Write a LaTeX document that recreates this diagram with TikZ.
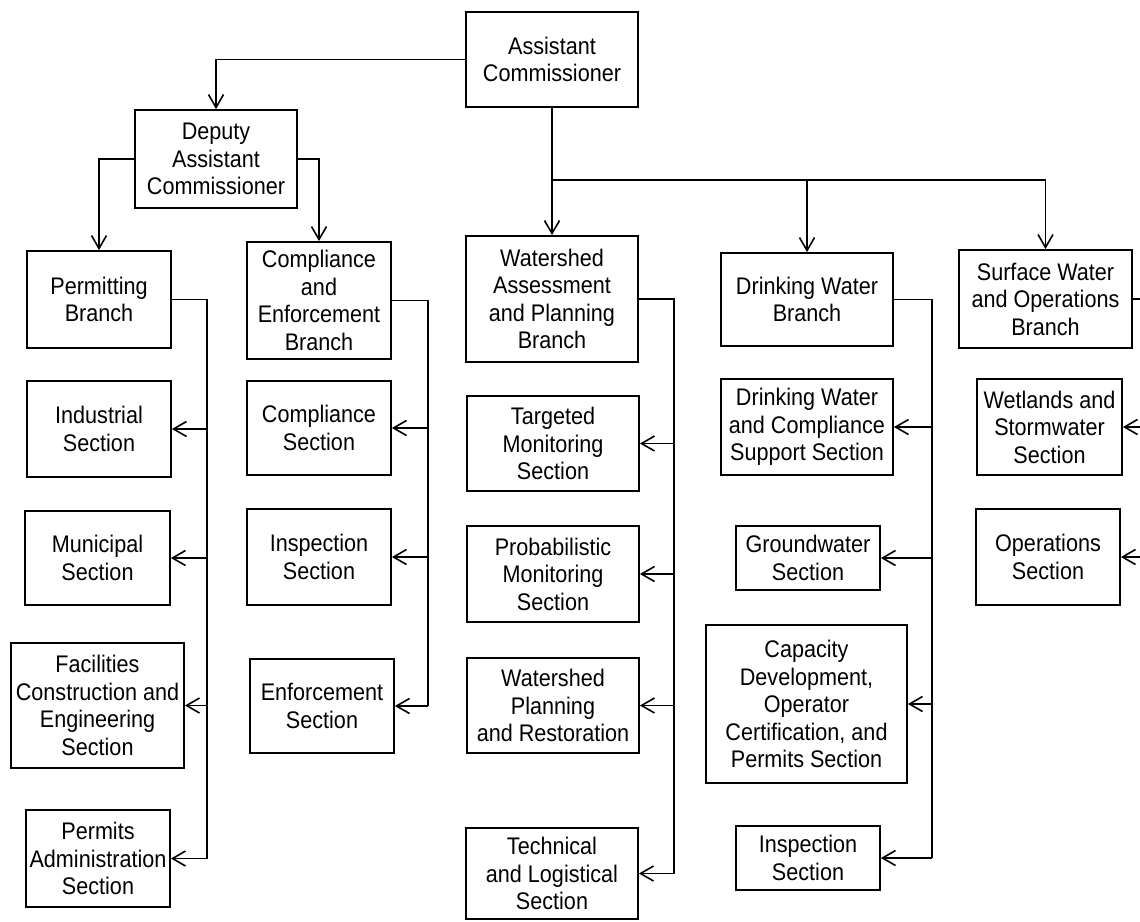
\documentclass[tikz,border=0pt]{standalone}
\usepackage{fontspec}
\setmainfont{Liberation Sans}[FakeStretch=0.9]
\usetikzlibrary{arrows.meta}
\begin{document}
\begin{tikzpicture}[x=1pt,y=-1pt,
  box/.style={draw, line width=1.8pt, inner sep=0pt, align=center,
    font=\fontsize{24}{27.5}\selectfont},
  link/.style={line width=1.6pt},
  feed/.style={link, -{Straight Barb[length=13pt,width=15pt]}}]
\useasboundingbox[fill=white] (0,0) rectangle (1140,921);

% top level
\node[box, minimum width=172pt, minimum height=95pt] (ac) at (552,59.5) {Assistant\\Commissioner};
\node[box, minimum width=162pt, minimum height=98pt] (dep) at (216,159) {Deputy\\Assistant\\Commissioner};

% branches
\node[box, minimum width=144pt, minimum height=97pt] (perm) at (99,299.5) {Permitting\\Branch};
\node[box, minimum width=144pt, minimum height=117pt] (ceb) at (319,300.5) {Compliance\\and\\Enforcement\\Branch};
\node[box, minimum width=172pt, minimum height=126pt] (wap) at (552,299) {Watershed\\Assessment\\and Planning\\Branch};
\node[box, minimum width=172pt, minimum height=93pt] (dwb) at (807,299.5) {Drinking Water\\Branch};
\node[box, minimum width=173pt, minimum height=98pt] (swo) at (1045.5,299) {Surface Water\\and Operations\\Branch};

% permitting sections
\node[box, minimum width=144pt, minimum height=96pt] (ind) at (99,429) {Industrial\\Section};
\node[box, minimum width=145pt, minimum height=94pt] (mun) at (97.5,558) {Municipal\\Section};
\node[box, minimum width=173pt, minimum height=125pt] (fac) at (97.5,705.5) {Facilities\\Construction and\\Engineering\\Section};
\node[box, minimum width=144pt, minimum height=97pt] (pad) at (98,858.5) {Permits\\Administration\\Section};

% compliance and enforcement sections
\node[box, minimum width=144pt, minimum height=94pt] (cmp) at (319,428) {Compliance\\Section};
\node[box, minimum width=144pt, minimum height=96pt] (ins) at (319,557) {Inspection\\Section};
\node[box, minimum width=144pt, minimum height=94pt] (enf) at (322,706) {Enforcement\\Section};

% watershed sections
\node[box, minimum width=172pt, minimum height=95pt] (tgt) at (553,443.5) {Targeted\\Monitoring\\Section};
\node[box, minimum width=172pt, minimum height=96pt] (prb) at (553,574) {Probabilistic\\Monitoring\\Section};
\node[box, minimum width=172pt, minimum height=95pt] (wpr) at (553,705.5) {Watershed\\Planning\\and Restoration};
\node[box, minimum width=172pt, minimum height=91pt] (tec) at (552,873.5) {Technical\\and Logistical\\Section};

% drinking water sections
\node[box, minimum width=172pt, minimum height=96pt] (dwc) at (807,427) {Drinking Water\\and Compliance\\Support Section};
\node[box, minimum width=144pt, minimum height=64pt] (gw) at (808,558) {Groundwater\\Section};
\node[box, minimum width=201pt, minimum height=158pt] (cap) at (806.5,704) {Capacity\\Development,\\Operator\\Certification, and\\Permits Section};
\node[box, minimum width=144pt, minimum height=64pt] (dwi) at (808,858) {Inspection\\Section};

% surface water sections
\node[box, minimum width=145pt, minimum height=96pt] (wet) at (1049.5,427) {Wetlands and\\Stormwater\\Section};
\node[box, minimum width=144pt, minimum height=96pt] (ops) at (1048,557) {Operations\\Section};

% top connectors
\coordinate (bus) at (552,180);
\coordinate (busR) at (1045.5,180);
\draw[feed] (ac.west) -| (dep.north);
\draw[feed] (dep.west) -| (perm.north);
\draw[feed] (dep.east) -| (ceb.north);
\draw[link] (ac.south) -- (bus) -- (busR);
\draw[feed] (bus) -- (wap.north);
\draw[feed] (dwb.north |- bus) -- (dwb.north);
\draw[feed] (busR) -- (swo.north);

% section trunks
\coordinate (pt) at (207,0);
\coordinate (ct) at (428,0);
\coordinate (wt) at (674,0);
\coordinate (dt) at (932,0);
\coordinate (st) at (1165,0);

\draw[link] (perm.east) -- (perm.east -| pt) -- (pad.east -| pt);
\foreach \n in {ind,mun,fac,pad} \draw[feed] (\n.east -| pt) -- (\n.east);

\draw[link] (ceb.east) -- (ceb.east -| ct) -- (enf.east -| ct);
\foreach \n in {cmp,ins,enf} \draw[feed] (\n.east -| ct) -- (\n.east);

\draw[link] (wap.east) -- (wap.east -| wt) -- (tec.east -| wt);
\foreach \n in {tgt,prb,wpr,tec} \draw[feed] (\n.east -| wt) -- (\n.east);

\draw[link] (dwb.east) -- (dwb.east -| dt) -- (dwi.east -| dt);
\foreach \n in {dwc,gw,cap,dwi} \draw[feed] (\n.east -| dt) -- (\n.east);

\draw[link] (swo.east) -- (swo.east -| st) -- (ops.east -| st);
\foreach \n in {wet,ops} \draw[feed] (\n.east -| st) -- (\n.east);
\end{tikzpicture}
\end{document}
